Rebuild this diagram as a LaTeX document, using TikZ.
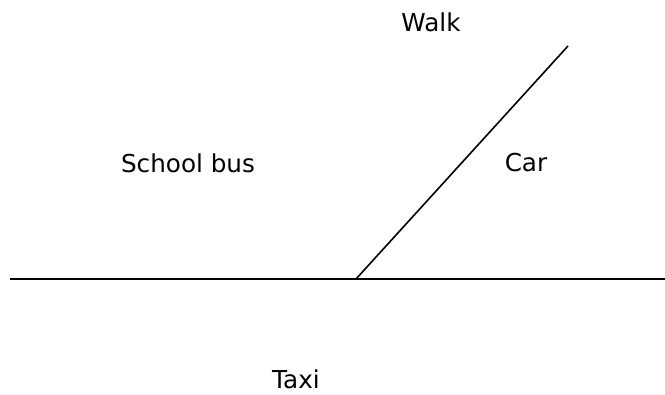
\documentclass[tikz,border=0pt]{standalone}
\usepackage{fontspec}
\setmainfont{DejaVu Sans}
\begin{document}
\begin{tikzpicture}[x=0.75pt,y=-0.75pt,
  lbl/.style={font=\fontsize{18.5}{21}\selectfont, inner sep=0pt, anchor=center},
  ln/.style={line width=1.2pt, black}]
\useasboundingbox (0,0) rectangle (665,394);
\coordinate (hl) at (10,279);
\coordinate (hr) at (665,279);
\coordinate (o) at (356,279);
\coordinate (d) at (568,46);
\draw[ln] (hl) -- (hr);
\draw[ln] (o) -- (d);
\node[lbl] (walk) at (431,22) {Walk};
\node[lbl] (bus) at (188,163) {School bus};
\node[lbl] (car) at (526,163) {Car};
\node[lbl] (taxi) at (296,379) {Taxi};
\end{tikzpicture}
\end{document}
